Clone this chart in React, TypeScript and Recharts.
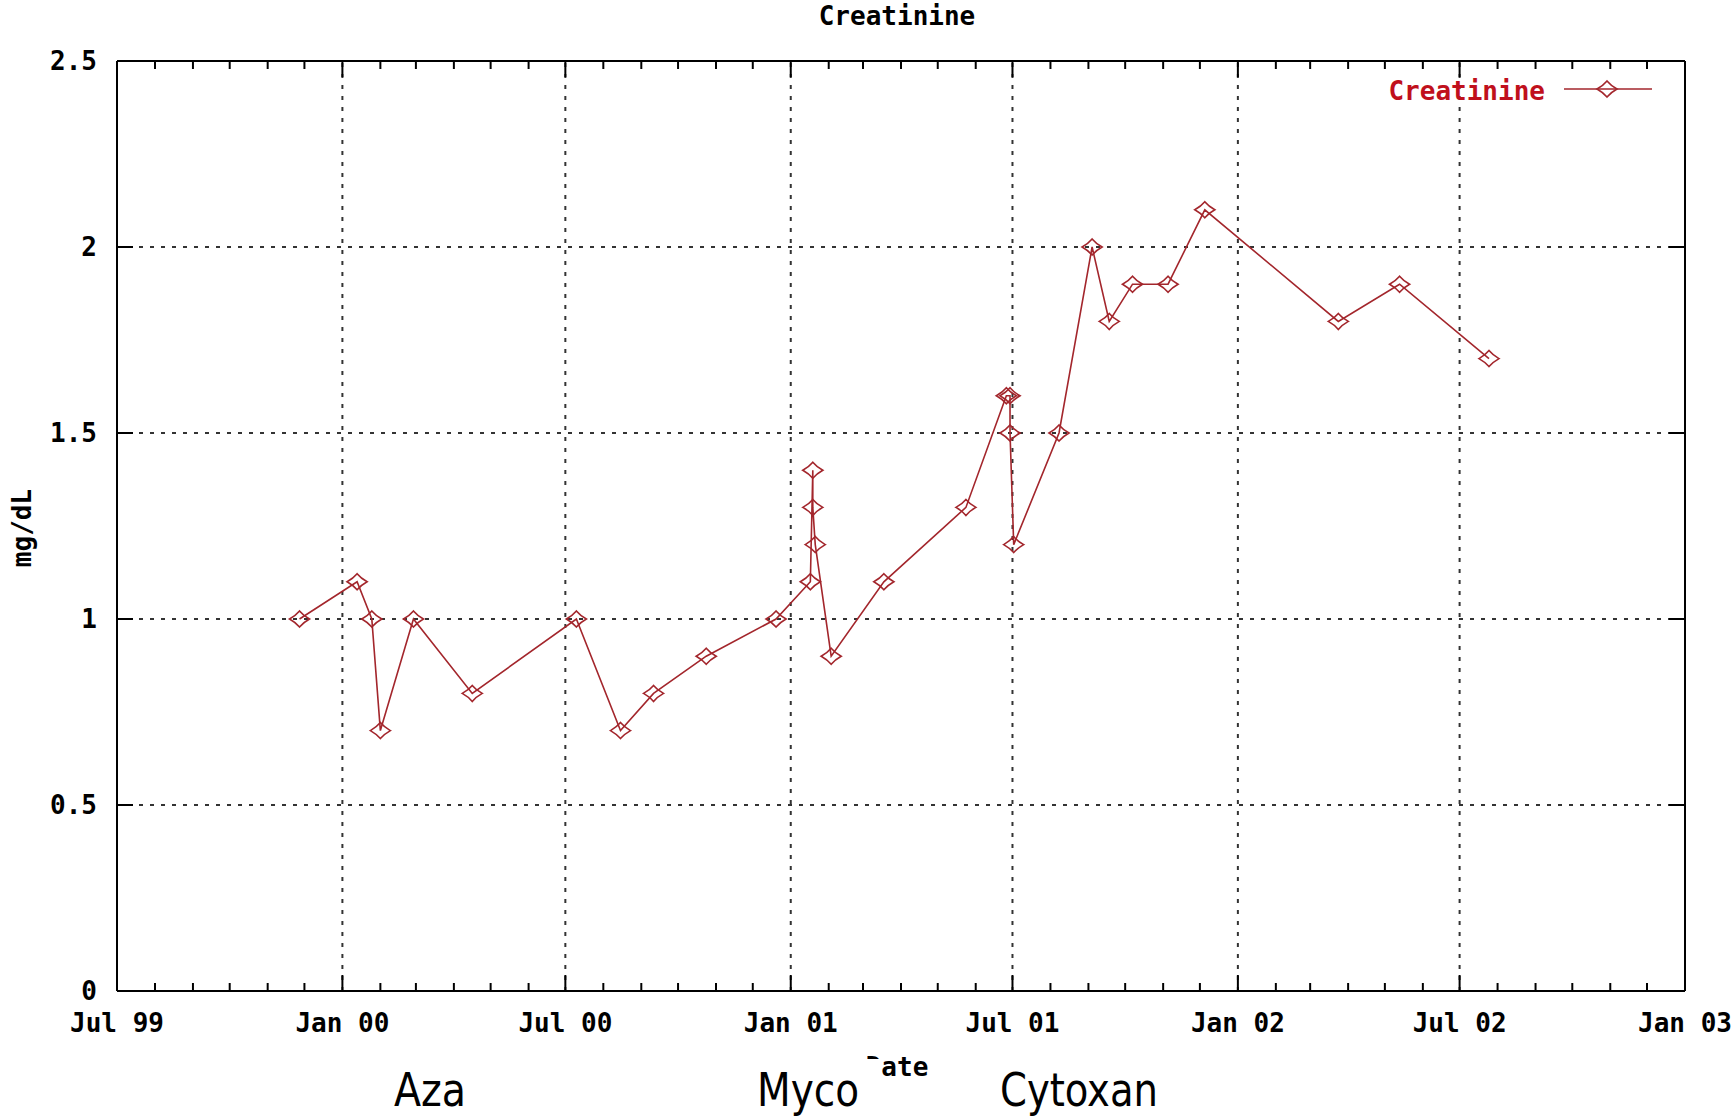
import { CartesianGrid, Line, LineChart, ReferenceLine, XAxis, YAxis } from "recharts"

// creatinine readings (mg/dL)
const readingDates = [
  "1999-11-27", "2000-01-13", "2000-01-25", "2000-02-01", "2000-02-28", "2000-04-16",
  "2000-07-10", "2000-08-15", "2000-09-11", "2000-10-24", "2000-12-20", "2001-01-17",
  "2001-01-19", "2001-01-19", "2001-01-21", "2001-02-03", "2001-03-18", "2001-05-24",
  "2001-06-26", "2001-06-29", "2001-06-29", "2001-07-02", "2001-08-08", "2001-09-04",
  "2001-09-18", "2001-10-07", "2001-11-05", "2001-12-05", "2002-03-24", "2002-05-13",
  "2002-07-25",
]
const creatinine = [
  1.0, 1.1, 1.0, 0.7, 1.0, 0.8,
  1.0, 0.7, 0.8, 0.9, 1.0, 1.1,
  1.4, 1.3, 1.2, 0.9, 1.1, 1.3,
  1.6, 1.6, 1.5, 1.2, 1.5, 2.0,
  1.8, 1.9, 1.9, 2.1, 1.8, 1.9,
  1.7,
]

const majorTickDates = [
  "1999-07-01", "2000-01-01", "2000-07-01", "2001-01-01",
  "2001-07-01", "2002-01-01", "2002-07-01", "2003-01-01",
]
const majorTickLabels = ["Jul 99", "Jan 00", "Jul 00", "Jan 01", "Jul 01", "Jan 02", "Jul 02", "Jan 03"]
const yTicks = [0, 0.5, 1, 1.5, 2, 2.5]
const treatments = ["Aza", "Myco", "Cytoxan"]

const LINE = "#a3262c"
const GRID = "#333"
const FONT = "'DejaVu Sans Mono', 'Liberation Mono', monospace"

const ts = (s: string) => Date.parse(s + "T00:00:00Z")

const data = readingDates.map((d, i) => ({ t: ts(d), v: creatinine[i] }))
const majorTicks = majorTickDates.map(ts)
const labelFor = new Map(majorTicks.map((t, i) => [t, majorTickLabels[i]]))

// monthly minor ticks, Jul 99 .. Jan 03
const monthTicks: number[] = []
for (let i = 0; i <= 42; i++) monthTicks.push(Date.UTC(1999, 6 + i, 1))

const domainX = [majorTicks[0], majorTicks[majorTicks.length - 1]]

// plot frame in page pixels
const L = 117, R = 1685, T = 61, B = 991
const AX = 30 // room given to each axis

function BottomTick(props: any) {
  const { x, payload } = props
  const y = B
  const label = labelFor.get(payload.value)
  const len = label ? 16 : 8
  return (
    <g>
      <line x1={x} x2={x} y1={y} y2={y - len} stroke="#000" strokeWidth={2} />
      {label && (
        <text x={x} y={y + 32} textAnchor="middle" dominantBaseline="central"
          fontFamily={FONT} fontWeight="bold" fontSize={26} fill="#000">
          {label}
        </text>
      )}
    </g>
  )
}

function TopTick(props: any) {
  const { x, payload } = props
  const len = labelFor.has(payload.value) ? 16 : 8
  return <line x1={x} x2={x} y1={T} y2={T + len} stroke="#000" strokeWidth={2} />
}

function LeftTick(props: any) {
  const { y, payload } = props
  return (
    <g>
      <line x1={L} x2={L + 16} y1={y} y2={y} stroke="#000" strokeWidth={2} />
      <text x={L - 20} y={y} textAnchor="end" dominantBaseline="central"
        fontFamily={FONT} fontWeight="bold" fontSize={26} fill="#000">
        {String(payload.value)}
      </text>
    </g>
  )
}

function RightTick(props: any) {
  const { y } = props
  return <line x1={R} x2={R - 16} y1={y} y2={y} stroke="#000" strokeWidth={2} />
}

function Diamond(props: any) {
  const { cx, cy, index } = props
  if (cx == null || cy == null) return <g key={index} />
  const w = 10, h = 8, k = 3.6
  const d = `M${cx},${cy - h} Q${cx + k},${cy - k} ${cx + w},${cy} Q${cx + k},${cy + k} ${cx},${cy + h} Q${cx - k},${cy + k} ${cx - w},${cy} Q${cx - k},${cy - k} ${cx},${cy - h} Z`
  return <path key={index} d={d} fill="none" stroke={LINE} strokeWidth={1.6} />
}

const axisLine = { stroke: "#000", strokeWidth: 2 }

export default function App() {
  return (
    <div style={{ position: "absolute", left: 0, top: 0, width: 1733, height: 1120, background: "#fff" }}>
      <LineChart width={1733} height={1120} data={data}
        margin={{ top: T - AX, right: 1733 - R - AX, bottom: 1120 - B - AX, left: L - AX }}>
        <CartesianGrid vertical={false} stroke={GRID} strokeWidth={2} strokeDasharray="4 7" />
        {majorTicks.slice(1, -1).map((t) => (
          <ReferenceLine key={t} x={t} stroke={GRID} strokeWidth={2} strokeDasharray="4 7" />
        ))}
        <XAxis dataKey="t" type="number" scale="linear" domain={domainX} allowDataOverflow
          ticks={monthTicks} interval={0} height={AX} tickSize={0} tickMargin={0}
          axisLine={axisLine} tickLine={false} tick={(p: any) => <BottomTick {...p} />} />
        <XAxis xAxisId="top" dataKey="t" orientation="top" type="number" scale="linear" domain={domainX}
          allowDataOverflow ticks={monthTicks} interval={0} height={AX} tickSize={0} tickMargin={0}
          axisLine={axisLine} tickLine={false} tick={(p: any) => <TopTick {...p} />} />
        <YAxis type="number" domain={[0, 2.5]} allowDataOverflow ticks={yTicks} interval={0} width={AX}
          tickSize={0} tickMargin={0} axisLine={axisLine} tickLine={false}
          tick={(p: any) => <LeftTick {...p} />} />
        <YAxis yAxisId="right" orientation="right" type="number" domain={[0, 2.5]} allowDataOverflow
          ticks={yTicks} interval={0} width={AX} tickSize={0} tickMargin={0} axisLine={axisLine}
          tickLine={false} tick={(p: any) => <RightTick {...p} />} />
        <Line type="linear" dataKey="v" stroke={LINE} strokeWidth={1.6} dot={(p: any) => <Diamond {...p} />}
          activeDot={false} isAnimationActive={false} />
        <Line xAxisId="top" yAxisId="right" type="linear" dataKey="v" stroke="none" dot={false}
          activeDot={false} isAnimationActive={false} legendType="none" />
      </LineChart>

      <svg width={1733} height={1120} style={{ position: "absolute", left: 0, top: 0, pointerEvents: "none" }}>
        <text x={897} y={16} textAnchor="middle" dominantBaseline="central"
          fontFamily={FONT} fontWeight="bold" fontSize={26} fill="#000">Creatinine</text>

        <text x={22} y={528} transform="rotate(-90 22 528)" textAnchor="middle" dominantBaseline="central"
          fontFamily={FONT} fontWeight="bold" fontSize={26} fill="#000">mg/dL</text>

        <text x={897} y={1067} textAnchor="middle" dominantBaseline="central"
          fontFamily={FONT} fontWeight="bold" fontSize={26} fill="#000">Date</text>
        <rect x={860} y={1059} width={21} height={28} fill="#fff" />

        {/* legend */}
        <text x={1545} y={91} textAnchor="end" dominantBaseline="central"
          fontFamily={FONT} fontWeight="bold" fontSize={26} fill="#c0101c">Creatinine</text>
        <line x1={1564} x2={1652} y1={89} y2={89} stroke={LINE} strokeWidth={1.6} />
        <Diamond cx={1607} cy={89} index={-1} />

        {/* treatment annotations */}
        {treatments.map((name, i) => {
          const cx = [430, 808, 1079][i]
          const w = [72, 102, 158][i]
          return (
            <text key={name} x={cx} y={1106} textAnchor="middle" textLength={w} lengthAdjust="spacingAndGlyphs"
              fontFamily="'Liberation Sans Narrow', 'DejaVu Sans Condensed', 'Noto Sans', sans-serif"
              fontSize={46} fill="#000">
              {name}
            </text>
          )
        })}
      </svg>
    </div>
  )
}
